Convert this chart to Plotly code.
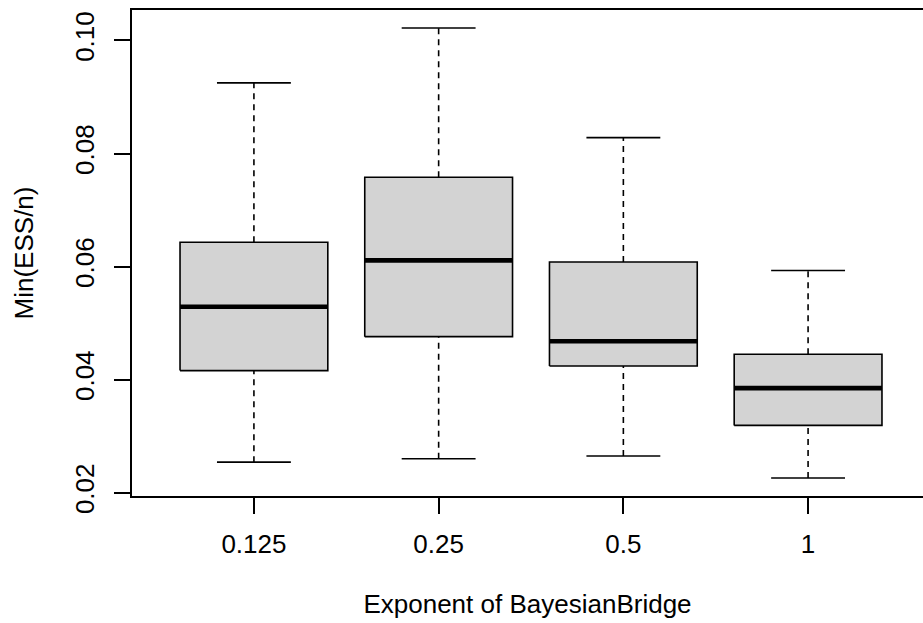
import plotly.graph_objects as go

# ---- data ----
categories = ["0.125", "0.25", "0.5", "1"]
lower_whisker = [0.0254, 0.0260, 0.0265, 0.0226]
q1_values = [0.0416, 0.0476, 0.0424, 0.0319]
median_values = [0.0529, 0.0611, 0.0468, 0.0385]
q3_values = [0.0643, 0.0758, 0.0608, 0.0445]
upper_whisker = [0.0925, 0.1022, 0.0828, 0.0593]
y_tick_values = [0.02, 0.04, 0.06, 0.08, 0.10]
y_tick_labels = ["0.02", "0.04", "0.06", "0.08", "0.10"]

# ---- style ----
FONT = "Liberation Sans, Arial, Helvetica, sans-serif"
FS = 26
BOXWEX = 0.8
STAPLE = 0.4
FILL = "#D3D3D3"
LW = 1.6

W, H = 923, 623
ML, MT, MB, MR = 132, 10, 127, 0

fig = go.Figure()

pos = list(range(1, len(categories) + 1))

# whiskers (dashed)
wx, wy = [], []
for p, lo, a, b, hi in zip(pos, lower_whisker, q1_values, q3_values, upper_whisker):
    wx += [p, p, None, p, p, None]
    wy += [b, hi, None, lo, a, None]
fig.add_trace(go.Scatter(x=wx, y=wy, mode="lines",
                         line=dict(color="black", width=LW, dash="6px,5px"),
                         hoverinfo="skip", showlegend=False))

# staples
sx, sy = [], []
for p, lo, hi in zip(pos, lower_whisker, upper_whisker):
    sx += [p - STAPLE / 2, p + STAPLE / 2, None, p - STAPLE / 2, p + STAPLE / 2, None]
    sy += [hi, hi, None, lo, lo, None]
fig.add_trace(go.Scatter(x=sx, y=sy, mode="lines",
                         line=dict(color="black", width=LW),
                         hoverinfo="skip", showlegend=False))

# boxes
for p, a, b in zip(pos, q1_values, q3_values):
    h = BOXWEX / 2
    fig.add_trace(go.Scatter(x=[p - h, p + h, p + h, p - h, p - h],
                             y=[a, a, b, b, a], mode="lines", fill="toself",
                             fillcolor=FILL, line=dict(color="black", width=LW),
                             hoverinfo="skip", showlegend=False))

# medians
mx, my = [], []
for p, m in zip(pos, median_values):
    mx += [p - BOXWEX / 2, p + BOXWEX / 2, None]
    my += [m, m, None]
fig.add_trace(go.Scatter(x=mx, y=my, mode="lines",
                         line=dict(color="black", width=4.6),
                         hoverinfo="skip", showlegend=False))

# R-style axis ranges (4% padding); right frame edge falls outside the image
ylo, yhi = min(lower_whisker), max(upper_whisker)
ypad = 0.04 * (yhi - ylo)
xlo_full, xhi_full = 0.5 - 0.04 * len(categories), len(categories) + 0.5 + 0.04 * len(categories)
full_width_px = 798.0
px_per_unit = full_width_px / (xhi_full - xlo_full)
plot_w = W - ML - MR
xhi_vis = xlo_full + plot_w / px_per_unit

fig.update_layout(
    width=W, height=H,
    margin=dict(l=ML, r=MR, t=MT, b=MB, pad=0),
    plot_bgcolor="white", paper_bgcolor="white",
    font=dict(family=FONT, size=FS, color="black"),
    xaxis=dict(range=[xlo_full, xhi_vis], tickvals=pos, ticktext=categories,
               ticks="outside", ticklen=16, tickwidth=LW, tickcolor="black",
               showline=True, mirror=True, linewidth=2, linecolor="black",
               showgrid=False, zeroline=False, ticklabelstandoff=8,
               title=dict(text="Exponent of BayesianBridge", standoff=37,
                          font=dict(family=FONT, size=FS))),
    yaxis=dict(range=[ylo - ypad, yhi + ypad], tickvals=y_tick_values,
               ticktext=y_tick_labels, tickangle=-90,
               ticks="outside", ticklen=16, tickwidth=LW, tickcolor="black",
               showline=True, linewidth=2, linecolor="black",
               showgrid=False, zeroline=False, ticklabelstandoff=10,
               title=dict(text="Min(ESS/n)", standoff=28,
                          font=dict(family=FONT, size=FS))),
)

fig.write_html("out.html")
